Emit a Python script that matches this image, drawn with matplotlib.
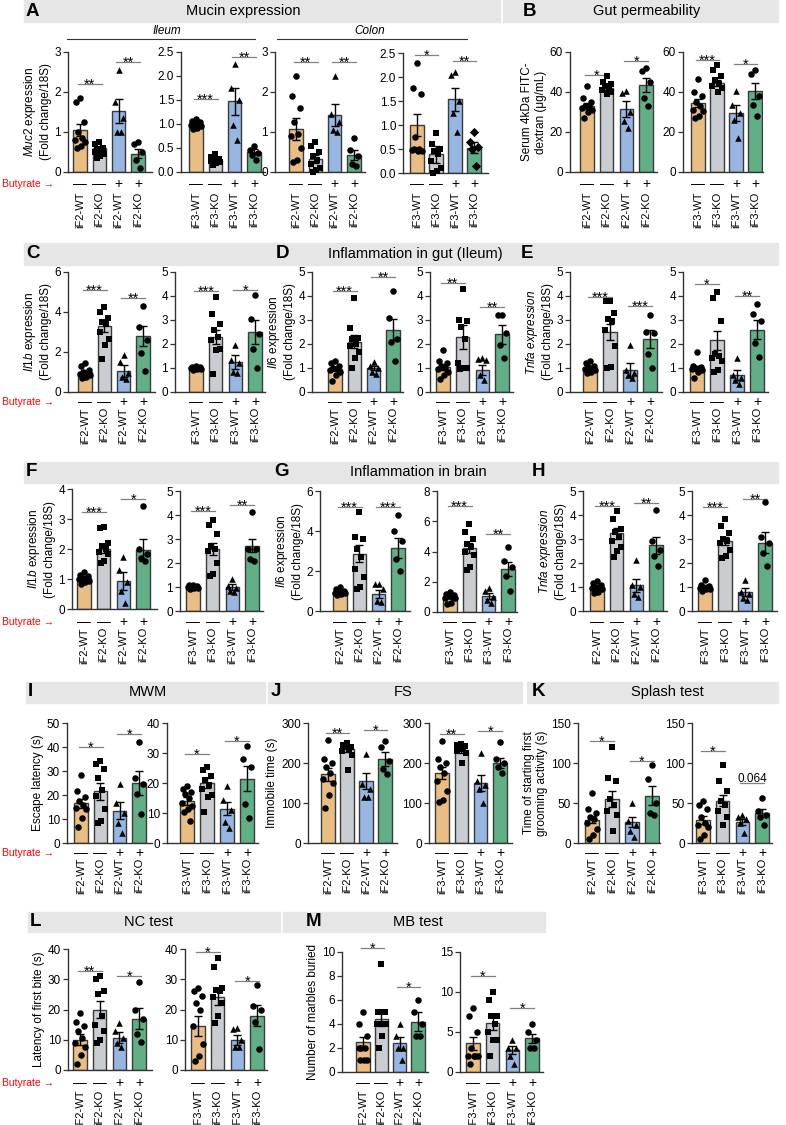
import numpy as np
import matplotlib
matplotlib.use('Agg')
import matplotlib.pyplot as plt
from matplotlib.patches import Rectangle
from matplotlib import transforms

plt.rcParams['font.family'] = ['Liberation Sans', 'DejaVu Sans']
plt.rcParams['mathtext.fontset'] = 'custom'
plt.rcParams['mathtext.rm'] = 'Liberation Sans'
plt.rcParams['mathtext.it'] = 'Liberation Sans:italic'

W, H = 786, 1125

groups = ['WT', 'KO', 'WT', 'KO']
butyrate = ['—', '—', '+', '+']
colors = ['#E9BD83', '#C9CCD1', '#98B6E2', '#62AF87']
markers = ['o', 's', '^', 'o']

# ---- A: Muc2 expression ----
a1_mean = [1.05, 0.6, 1.52, 0.46]
a1_sem = [0.15, 0.05, 0.3, 0.12]
a1_pts = [[1.85, 1.75, 1.25, 1.0, 0.85, 0.8, 0.75, 0.65, 0.6], [0.75, 0.7, 0.6, 0.55, 0.5, 0.5, 0.45, 0.4, 0.35],
          [2.55, 1.75, 1.35, 1.0, 1.0], [0.75, 0.7, 0.5, 0.3, 0.1]]
a1_sig = [(0, 1, 2.2, '**'), (2, 3, 2.75, '**')]

a2_mean = [1.0, 0.25, 1.47, 0.42]
a2_sem = [0.03, 0.03, 0.28, 0.05]
a2_pts = [[1.1, 1.07, 1.05, 1.02, 1.0, 0.98, 0.95, 0.92, 0.9], [0.38, 0.32, 0.28, 0.25, 0.24, 0.22, 0.2, 0.18, 0.15],
          [2.24, 1.75, 1.49, 0.97, 0.66], [0.55, 0.45, 0.4, 0.35, 0.25]]
a2_sig = [(0, 1, 1.53, '***'), (2, 3, 2.4, '**')]

a3_mean = [1.07, 0.32, 1.42, 0.43]
a3_sem = [0.27, 0.1, 0.28, 0.12]
a3_pts = [[2.4, 1.9, 1.6, 1.25, 0.95, 0.9, 0.6, 0.3, 0.25], [0.75, 0.65, 0.5, 0.4, 0.3, 0.2, 0.1, 0.05, 0.0],
          [2.4, 1.45, 1.25, 1.05, 1.0], [0.85, 0.55, 0.4, 0.2, 0.15]]
a3_sig = [(0, 1, 2.75, '**'), (2, 3, 2.75, '**')]

a4_mean = [1.0, 0.39, 1.54, 0.53]
a4_sem = [0.23, 0.18, 0.24, 0.12]
a4_pts = [[2.29, 1.77, 1.65, 0.74, 0.5, 0.48, 0.45, 0.45, 0.5], [0.84, 0.6, 0.5, 0.45, 0.4, 0.25, 0.1, 0.05, 0.0],
          [2.1, 2.05, 1.5, 1.25, 0.85], [0.85, 0.65, 0.55, 0.5, 0.15]]
a4_sig = [(0, 1, 2.46, '*'), (2, 3, 2.34, '**')]

# ---- B: Gut permeability ----
b1_mean = [33, 42, 31.5, 43.5]
b1_sem = [1.5, 1.0, 3.8, 3.5]
b1_pts = [[43, 37, 35, 33, 33, 32, 31, 30, 27], [48, 45, 44, 43, 42, 41, 40, 39],
          [40.5, 39.5, 30, 25.5, 22], [52, 50.5, 45, 37, 33]]
b1_sig = [(0, 1, 48.4, '*'), (2, 3, 55.5, '*')]

b2_mean = [34.5, 44.5, 29.5, 40.5]
b2_sem = [2.2, 1.5, 3.8, 4.0]
b2_pts = [[46.5, 40, 38, 35, 33, 31, 30.5, 28, 27], [53.5, 51, 48, 46, 44, 43, 42, 40],
          [40.5, 33.5, 29.5, 26, 17], [51, 49, 38, 33.5, 28]]
b2_sig = [(0, 1, 55.9, '***'), (2, 3, 54.2, '*')]

# ---- C/D/E: inflammation in gut ----
c1_mean = [1.0, 3.3, 1.05, 2.8]
c1_sem = [0.08, 0.3, 0.3, 0.5]
c1_pts = [[1.45, 1.3, 1.1, 1.0, 0.95, 0.9, 0.85, 0.75, 0.7], [4.25, 4.0, 3.7, 3.5, 3.4, 3.0, 2.65, 2.35, 1.65],
          [1.85, 1.5, 0.95, 0.75, 0.65], [4.3, 3.25, 2.6, 1.95, 1.05]]
c1_sig = [(0, 1, 5.1, '***'), (2, 3, 4.7, '**')]

c2_mean = [1.0, 2.3, 1.25, 2.5]
c2_sem = [0.03, 0.3, 0.3, 0.5]
c2_pts = [[1.08, 1.05, 1.03, 1.0, 1.0, 0.98, 0.97, 0.95, 0.93], [3.95, 3.25, 2.85, 2.6, 2.3, 2.15, 1.8, 1.75, 0.75],
          [1.95, 1.35, 1.2, 0.85, 0.8], [4.05, 3.05, 2.4, 1.8, 1.0]]
c2_sig = [(0, 1, 4.2, '***'), (2, 3, 4.26, '*')]

d1_mean = [0.95, 2.1, 1.0, 2.6]
d1_sem = [0.08, 0.27, 0.1, 0.45]
d1_pts = [[1.3, 1.2, 1.1, 1.0, 0.95, 0.9, 0.85, 0.7, 0.45], [3.9, 2.65, 2.25, 2.2, 2.0, 1.9, 1.65, 1.4, 1.0],
          [1.25, 1.1, 1.0, 0.85, 0.75], [4.2, 3.1, 2.2, 2.1, 1.3]]
d1_sig = [(0, 1, 4.2, '***'), (2, 3, 4.8, '**')]

d2_mean = [1.05, 2.3, 0.92, 2.4]
d2_sem = [0.12, 0.5, 0.2, 0.4]
d2_pts = [[1.75, 1.3, 1.2, 1.1, 1.0, 0.95, 0.85, 0.7, 0.55], [4.3, 3.0, 2.95, 2.7, 2.2, 1.2, 1.0, 1.0, 0.95],
          [1.4, 1.38, 1.35, 0.7, 0.5], [3.2, 3.2, 2.45, 1.95, 1.4]]
d2_sig = [(0, 1, 4.55, '**'), (2, 3, 3.55, '**')]

e1_mean = [1.0, 2.5, 0.92, 2.2]
e1_sem = [0.05, 0.35, 0.28, 0.38]
e1_pts = [[1.3, 1.2, 1.1, 1.05, 1.0, 0.95, 0.9, 0.85, 0.8], [3.8, 3.8, 3.3, 3.05, 2.95, 2.6, 1.9, 1.05, 1.0],
          [1.95, 0.9, 0.8, 0.7, 0.6], [3.2, 2.5, 2.45, 1.6, 1.0]]
e1_sig = [(0, 1, 3.96, '***'), (2, 3, 3.58, '***')]

e2_mean = [1.0, 2.15, 0.7, 2.6]
e2_sem = [0.1, 0.4, 0.2, 0.4]
e2_pts = [[1.65, 1.1, 1.05, 1.0, 1.0, 0.95, 0.9, 0.85, 0.6], [4.15, 3.9, 2.95, 1.6, 1.5, 1.4, 1.3, 0.9, 0.85],
          [1.4, 0.7, 0.6, 0.5, 0.35], [3.65, 3.25, 2.95, 2.05, 1.45]]
e2_sig = [(0, 1, 4.49, '*'), (2, 3, 3.98, '**')]

# ---- F/G/H: inflammation in brain ----
f1_mean = [1.05, 2.0, 0.95, 1.97]
f1_sem = [0.04, 0.12, 0.3, 0.37]
f1_pts = [[1.25, 1.15, 1.1, 1.05, 1.0, 1.0, 0.95, 0.9, 0.85], [2.72, 2.7, 2.2, 2.1, 2.0, 1.9, 1.85, 1.6, 1.55],
          [1.73, 1.3, 0.9, 0.6, 0.2], [3.44, 2.0, 1.85, 1.7, 1.6]]
f1_sig = [(0, 1, 3.23, '***'), (2, 3, 3.67, '*')]

f2_mean = [1.0, 2.6, 1.0, 2.72]
f2_sem = [0.02, 0.25, 0.12, 0.28]
f2_pts = [[1.1, 1.07, 1.05, 1.02, 1.0, 0.98, 0.97, 0.95, 0.93], [3.8, 3.6, 3.2, 2.7, 2.6, 2.5, 2.0, 1.55, 1.45],
          [1.35, 1.05, 0.95, 0.85, 0.8], [4.12, 2.6, 2.6, 2.15, 2.1]]
f2_sig = [(0, 1, 4.15, '***'), (2, 3, 4.4, '**')]

g1_mean = [0.97, 2.87, 0.83, 3.17]
g1_sem = [0.04, 0.41, 0.2, 0.5]
g1_pts = [[1.2, 1.1, 1.0, 1.0, 0.95, 0.9, 0.9, 0.85, 0.8], [4.95, 3.7, 3.6, 3.1, 2.7, 2.1, 1.7, 1.2, 1.1],
          [1.35, 1.35, 1.1, 0.5, 0.45], [4.8, 4.0, 3.5, 2.6, 2.0]]
g1_sig = [(0, 1, 5.2, '***'), (2, 3, 5.2, '***')]

g2_mean = [1.0, 4.23, 1.03, 2.86]
g2_sem = [0.07, 0.3, 0.2, 0.45]
g2_pts = [[1.3, 1.2, 1.1, 1.05, 1.0, 0.95, 0.9, 0.6, 0.5], [5.8, 5.3, 4.8, 4.5, 4.3, 4.0, 3.8, 3.0, 2.8],
          [1.6, 1.4, 1.0, 0.8, 0.6], [4.3, 3.4, 3.0, 2.4, 1.4]]
g2_sig = [(0, 1, 7.0, '***'), (2, 3, 5.13, '**')]

h1_mean = [1.0, 3.23, 1.08, 2.74]
h1_sem = [0.05, 0.22, 0.27, 0.36]
h1_pts = [[1.25, 1.15, 1.1, 1.0, 1.0, 0.95, 0.9, 0.8, 0.75], [4.15, 3.85, 3.4, 3.3, 3.1, 2.9, 2.65, 2.5, 2.25],
          [2.12, 1.1, 1.0, 0.7, 0.6], [4.22, 2.9, 2.55, 2.3, 1.87]]
h1_sig = [(0, 1, 4.38, '***'), (2, 3, 4.5, '**')]

h2_mean = [1.0, 2.92, 0.79, 2.85]
h2_sem = [0.04, 0.18, 0.15, 0.45]
h2_pts = [[1.3, 1.1, 1.05, 1.0, 1.0, 0.95, 0.9, 0.9, 0.85], [3.85, 3.55, 3.25, 3.0, 2.9, 2.85, 2.55, 2.3, 2.2],
          [1.28, 0.8, 0.7, 0.55, 0.45], [4.54, 3.1, 2.85, 2.4, 1.86]]
h2_sig = [(0, 1, 4.33, '***'), (2, 3, 4.68, '**')]

# ---- I: MWM ----
i1_mean = [16.5, 21.5, 13.5, 25]
i1_sem = [2.0, 3.5, 3.5, 5.0]
i1_pts = [[28.5, 21.5, 19, 17.5, 16, 14.5, 14, 10.5, 6.5], [34, 33, 31, 27, 22, 19.5, 14, 9, 8.5],
          [24.5, 16.5, 12.5, 8.5, 4.0], [42, 27, 24.5, 20.5, 12]]
i1_sig = [(0, 1, 39.8, '*'), (2, 3, 45.3, '*')]

i2_mean = [14, 20, 11.5, 21.5]
i2_sem = [1.2, 1.6, 2.3, 4.3]
i2_pts = [[19, 18, 17, 16.5, 15, 13.5, 12.5, 11.5, 10.5, 7.5], [25.5, 24.5, 22.5, 21, 19.5, 18, 16, 15.5, 10.5],
          [19, 14.5, 11, 7, 5], [32.5, 28, 25.5, 13, 8.5]]
i2_sig = [(0, 1, 29.6, '*'), (2, 3, 34.0, '*')]

# ---- J: FS ----
j1_mean = [172, 235, 155, 210]
j1_sem = [16, 7, 20, 17]
j1_pts = [[258, 210, 200, 190, 175, 160, 150, 120, 87], [250, 245, 240, 240, 235, 230, 220, 183],
          [223, 148, 135, 115, 115], [255, 240, 205, 185, 172]]
j1_sig = [(0, 1, 275, '**'), (2, 3, 283, '*')]

j2_mean = [176, 232, 150, 200]
j2_sem = [15, 8, 20, 12]
j2_pts = [[254, 210, 200, 190, 175, 155, 130, 108, 102], [248, 245, 243, 240, 235, 230, 225, 200],
          [225, 155, 145, 135, 100], [252, 210, 200, 190, 175]]
j2_sig = [(0, 1, 273, '**'), (2, 3, 279, '*')]

# ---- K: Splash test ----
k1_mean = [29, 55, 26, 59]
k1_sem = [4.5, 10, 6.5, 12]
k1_pts = [[62, 42, 38, 33, 30, 25, 18, 10, 5], [120, 81, 77, 55, 48, 40, 35, 15],
          [50, 28, 22, 15, 8], [97, 80, 50, 38, 35]]
k1_sig = [(0, 1, 128, '*'), (2, 3, 103, '*')]

k2_mean = [29, 53, 26, 37.5]
k2_sem = [5, 7, 4, 5]
k2_pts = [[52, 48, 43, 33, 25, 22, 20, 10, 5], [98, 78, 65, 52, 48, 40, 32, 22],
          [35, 32, 30, 25, 13], [56, 40, 35, 33, 22]]
k2_sig = [(0, 1, 115, '*'), (2, 3, 75, '0.064')]

# ---- L: NC test ----
l1_mean = [10, 20, 10.7, 17]
l1_sem = [1.8, 2.8, 1.8, 3.5]
l1_pts = [[19, 16, 14.5, 13, 10.5, 9, 7.5, 5, 2], [31, 30, 26, 25, 18, 15, 13, 10, 9],
          [15.5, 13, 10.5, 9, 7.5], [29, 20, 17, 12, 9.4]]
l1_sig = [(0, 1, 32.6, '**'), (2, 3, 31.2, '*')]

l2_mean = [14.5, 24, 10, 18]
l2_sem = [3.3, 2.5, 1.7, 3.5]
l2_pts = [[27, 26, 24.5, 22, 20, 14.5, 8.5, 4.5, 3], [37, 34, 27, 26.5, 26, 24, 22, 18, 15.5],
          [14, 13.5, 10, 7.5, 7.5], [28, 21, 20, 16, 7]]
l2_sig = [(0, 1, 39, '*'), (2, 3, 29.3, '*')]

# ---- M: MB test ----
m1_mean = [2.5, 4.4, 2.4, 4.2]
m1_sem = [0.45, 0.6, 0.5, 0.8]
m1_pts = [[5, 4, 3, 2, 2, 2, 1, 1, 1], [9, 5, 5, 5, 4, 4, 4, 3, 2],
          [4, 3, 2, 2, 1], [6, 5, 4, 3, 3]]
m1_sig = [(0, 1, 10.36, '*'), (2, 3, 7.1, '*')]

m2_mean = [3.6, 6.1, 2.7, 4.2]
m2_sem = [0.8, 0.9, 0.5, 0.6]
m2_pts = [[8, 7, 5, 3, 2, 2, 2, 2, 1], [10, 9, 7, 7, 6, 5, 4, 4, 2],
          [4, 3, 3, 2, 1], [6, 5, 4, 3, 3]]
m2_sig = [(0, 1, 12, '*'), (2, 3, 8, '*')]

fc = '\n(Fold change/18S)'
offsets = [0, -0.2, 0.2, -0.1, 0.1, -0.24, 0.24, 0.03, -0.14, 0.14]

fig = plt.figure(figsize=(W / 100, H / 100), dpi=100)


def fy(y):
    return 1 - y / H


def panel(geom, rows, line, ticks, mean, sem, pts, sig, ylabel=None, fmt='{:g}', mk=None):
    left, first, last, right, top, bot = geom
    sp = (last - first) / 3
    ax = fig.add_axes([left / W, fy(bot), (right - left) / W, (bot - top) / H])
    ax.set_xlim(-(first - left) / sp, 3 + (right - last) / sp)
    ax.set_ylim(0, ticks[-1])
    x = np.arange(4)
    ax.bar(x, mean, width=13.5 / sp, color=colors, edgecolor='#3a3a3a', linewidth=1.0, zorder=1)
    ax.errorbar(x, mean, yerr=sem, fmt='none', ecolor='black', elinewidth=1.0,
                capsize=2.8, capthick=1.0, zorder=3)
    mks = mk if mk else markers
    for i in range(4):
        n = len(pts[i])
        ax.scatter(i + np.array(offsets[:n]), pts[i], s=22, marker=mks[i], color='black',
                   linewidths=0, zorder=4, clip_on=False)
    for a, b, h, s in sig:
        ax.plot([a - 0.12, b + 0.12], [h, h], color='#808080', lw=0.9, clip_on=False)
        star = s.startswith('*')
        ax.annotate(s, ((a + b) / 2, h), xytext=(0, -3.4 if star else 1.0), textcoords='offset points',
                    ha='center', va='baseline', fontsize=10.5 if star else 8.5,
                    annotation_clip=False)
    ax.set_yticks(ticks)
    ax.set_yticklabels([fmt.format(t) for t in ticks])
    ax.set_xticks([])
    ax.tick_params(axis='y', length=3.5, width=0.9, pad=1.5, labelsize=8.5, color='#333333')
    for s in ['top', 'right']:
        ax.spines[s].set_visible(False)
    for s in ['left', 'bottom']:
        ax.spines[s].set_linewidth(1.0)
        ax.spines[s].set_color('#333333')
    if ylabel:
        ax.set_ylabel(ylabel, fontsize=8.5, labelpad=2)
    tr = transforms.blended_transform_factory(ax.transData, fig.transFigure)
    for i in range(4):
        ax.text(i, fy(rows[0]), butyrate[i], ha='center', va='center', fontsize=10, transform=tr)
        ax.text(i, fy(rows[1]), line + '-' + groups[i], ha='center', va='top', rotation=90,
                fontsize=8, transform=tr)
    return ax


def band(x0, x1, y0, y1):
    fig.add_artist(Rectangle((x0 / W, fy(y1)), (x1 - x0) / W, (y1 - y0) / H,
                             transform=fig.transFigure, color='#e6e6e6', zorder=0))


def head(x, y, letter):
    fig.text(x / W, fy(y), letter, fontsize=13.5, fontweight='bold', va='center', ha='left')


def title(x, y, s):
    fig.text(x / W, fy(y), s, fontsize=10.5, va='center', ha='center')


def butyrate_label(y):
    fig.text(2 / W, fy(y), 'Butyrate →', color='red', fontsize=7.5, va='center', ha='left')


# header bands
band(24, 500, 0, 22); band(503, 778, 0, 22)
head(26, 11, 'A'); title(243, 11, 'Mucin expression')
head(523, 11, 'B'); title(647, 11, 'Gut permeability')
band(24, 778, 243, 265)
head(26, 254, 'C'); head(276, 254, 'D'); head(521, 254, 'E')
title(415, 254, 'Inflammation in gut (Ileum)')
band(24, 778, 462, 483)
head(26, 472, 'F'); head(274, 472, 'G'); head(532, 472, 'H')
title(418, 472, 'Inflammation in brain')
band(26, 265, 682, 703); band(268, 522, 682, 703); band(527, 778, 682, 703)
head(28, 692, 'I'); title(148, 692, 'MWM')
head(271, 692, 'J'); title(403, 692, 'FS')
head(532, 692, 'K'); title(667, 692, 'Splash test')
band(28, 280, 912, 932); band(283, 545, 912, 932)
head(30, 922, 'L'); title(148, 922, 'NC test')
head(306, 922, 'M'); title(418, 922, 'MB test')

# Ileum / Colon brackets
fig.add_artist(plt.Line2D([67 / W, 255 / W], [fy(39), fy(39)], color='#333333', lw=0.8))
fig.add_artist(plt.Line2D([277 / W, 467 / W], [fy(39), fy(39)], color='#333333', lw=0.8))
fig.text(167 / W, fy(31), 'Ileum', fontsize=8.5, style='italic', ha='center', va='center')
fig.text(370 / W, fy(31), 'Colon', fontsize=8.5, style='italic', ha='center', va='center')

r1 = (184, 192)
r2 = (402, 407)
r3 = (622, 627)
r4 = (853, 858)
r5 = (1083, 1090)

t_a = [0, 1, 2, 3]
t_a2 = [0, 0.5, 1.0, 1.5, 2.0, 2.5]
panel((68, 80, 138, 152, 52, 172), r1, 'iF2', t_a, a1_mean, a1_sem, a1_pts, a1_sig,
      r'$\it{Muc2}$ expression' + fc)
panel((181, 196, 254, 265, 52, 172), r1, 'iF3', t_a2, a2_mean, a2_sem, a2_pts, a2_sig, fmt='{:.1f}')
panel((275, 296, 354, 365, 52, 172), r1, 'iF2', t_a, a3_mean, a3_sem, a3_pts, a3_sig)
panel((403, 417, 474, 488, 53, 173), r1, 'iF3', t_a2, a4_mean, a4_sem, a4_pts, a4_sig, fmt='{:.1f}',
      mk=['o', 's', '^', 'D'])
panel((570, 587, 646, 657, 52, 172), r1, 'iF2', [0, 20, 40, 60], b1_mean, b1_sem, b1_pts, b1_sig,
      'Serum 4kDa FITC-\ndextran (μg/mL)')
panel((683, 698, 755, 763, 52, 172), r1, 'iF3', [0, 20, 40, 60], b2_mean, b2_sem, b2_pts, b2_sig)

panel((68, 85, 143, 155, 272, 392), r2, 'iF2', [0, 2, 4, 6], c1_mean, c1_sem, c1_pts, c1_sig,
      r'$\it{Il1b}$ expression' + fc)
panel((175, 196, 255, 265, 272, 392), r2, 'iF3', [0, 1, 2, 3, 4, 5], c2_mean, c2_sem, c2_pts, c2_sig)
panel((312, 335, 393, 403, 272, 392), r2, 'iF2', [0, 1, 2, 3, 4, 5], d1_mean, d1_sem, d1_pts, d1_sig,
      r'$\it{Il6}$ expression' + fc)
panel((430, 443, 502, 513, 272, 392), r2, 'iF3', [0, 1, 2, 3, 4, 5], d2_mean, d2_sem, d2_pts, d2_sig)
panel((570, 590, 650, 662, 272, 392), r2, 'iF2', [0, 1, 2, 3, 4, 5], e1_mean, e1_sem, e1_pts, e1_sig,
      r'$\it{Tnfa\ expression}$' + fc)
panel((683, 697, 757, 768, 272, 392), r2, 'iF3', [0, 1, 2, 3, 4, 5], e2_mean, e2_sem, e2_pts, e2_sig)

panel((72, 84, 143, 157, 489, 609), r3, 'iF2', [0, 1, 2, 3, 4], f1_mean, f1_sem, f1_pts, f1_sig,
      r'$\it{Il1b}$ expression' + fc)
panel((180, 193, 252, 263, 491, 611), r3, 'iF3', [0, 1, 2, 3, 4, 5], f2_mean, f2_sem, f2_pts, f2_sig)
panel((320, 340, 398, 410, 491, 611), r3, 'iF2', [0, 2, 4, 6], g1_mean, g1_sem, g1_pts, g1_sig,
      r'$\it{Il6}$ expression' + fc)
panel((437, 450, 508, 517, 491, 612), r3, 'iF3', [0, 2, 4, 6, 8], g2_mean, g2_sem, g2_pts, g2_sig)
panel((583, 597, 656, 667, 491, 611), r3, 'iF2', [0, 1, 2, 3, 4, 5], h1_mean, h1_sem, h1_pts, h1_sig,
      r'$\it{Tnfa\ expression}$' + fc)
panel((692, 705, 765, 777, 491, 611), r3, 'iF3', [0, 1, 2, 3, 4, 5], h2_mean, h2_sem, h2_pts, h2_sig)

panel((67, 81, 139, 152, 723, 843), r4, 'iF2', [0, 10, 20, 30, 40, 50], i1_mean, i1_sem, i1_pts, i1_sig,
      'Escape latency (s)')
panel((167, 187, 247, 258, 723, 843), r4, 'iF3', [0, 10, 20, 30, 40], i2_mean, i2_sem, i2_pts, i2_sig)
panel((308, 328, 385, 397, 723, 843), r4, 'iF2', [0, 100, 200, 300], j1_mean, j1_sem, j1_pts, j1_sig,
      'Immobile time (s)')
panel((429, 442, 500, 512, 723, 843), r4, 'iF3', [0, 100, 200, 300], j2_mean, j2_sem, j2_pts, j2_sig)
panel((578, 592, 652, 660, 723, 843), r4, 'iF2', [0, 50, 100, 150], k1_mean, k1_sem, k1_pts, k1_sig,
      'Time of starting first\ngrooming activity (s)')
panel((692, 703, 762, 772, 723, 843), r4, 'iF3', [0, 50, 100, 150], k2_mean, k2_sem, k2_pts, k2_sig)

panel((68, 80, 139, 152, 949, 1070), r5, 'iF2', [0, 10, 20, 30, 40], l1_mean, l1_sem, l1_pts, l1_sig,
      'Latency of first bite (s)')
panel((185, 198, 257, 267, 949, 1070), r5, 'iF3', [0, 10, 20, 30, 40], l2_mean, l2_sem, l2_pts, l2_sig)
panel((342, 363, 418, 428, 952, 1072), r5, 'iF2', [0, 2, 4, 6, 8, 10], m1_mean, m1_sem, m1_pts, m1_sig,
      'Number of marbles buried')
panel((460, 473, 532, 543, 952, 1072), r5, 'iF3', [0, 5, 10, 15], m2_mean, m2_sem, m2_pts, m2_sig)

for y in [r1[0], r2[0], r3[0], r4[0], r5[0]]:
    butyrate_label(y)

fig.savefig('out.png', dpi=100)
